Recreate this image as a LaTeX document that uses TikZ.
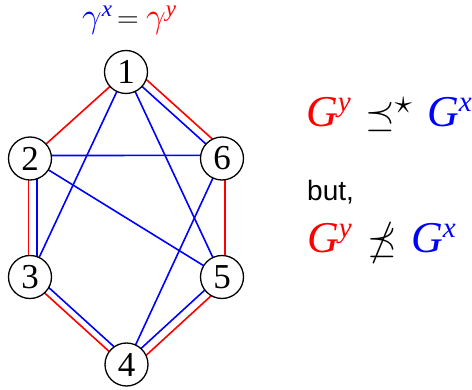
\RequirePackage{fix-cm}
\documentclass[tikz,border=0pt]{standalone}
\usepackage{amssymb}
\usepackage{fontspec}
\newfontfamily\arialfont{Liberation Sans}
\newfontfamily\tmsfont{Liberation Serif}
\usetikzlibrary{calc}
\newcommand\mysup[1]{\raisebox{15.5pt}{\fontsize{29}{29}\selectfont #1}}
\newcommand\topsup[1]{\raisebox{11pt}{\tmsfont\itshape\fontsize{23}{23}\selectfont #1}}
\tikzset{
  vtx/.style={circle,draw=black,line width=1.3pt,fill=white,minimum size=43pt,inner sep=0pt,font=\tmsfont\fontsize{35}{36}\selectfont},
  redge/.style={red,line width=1.6pt},
  bedge/.style={blue,line width=1.6pt},
  glbl/.style={inner sep=0pt,anchor=base west,font=\tmsfont\itshape\fontsize{44}{46}\selectfont},
  slbl/.style={inner sep=0pt,anchor=base west,font=\fontsize{38}{40}\selectfont},
}
\begin{document}
\begin{tikzpicture}[x=1pt,y=1pt]
\useasboundingbox (0,0) rectangle (472,389);
\coordinate (c1) at (126,317);
\coordinate (c2) at (30,230.5);
\coordinate (c6) at (222,230.5);
\coordinate (c3) at (30,112);
\coordinate (c5) at (222,112);
\coordinate (c4) at (126.5,24.5);
% outer cycle (offset to the left of travel = outward)
\draw[redge] ($(c1)!8pt!90:(c6)$) -- ($(c6)!8pt!-90:(c1)$);
\draw[bedge] (c1) -- (c6);
\draw[redge] ($(c6)!3pt!90:(c5)$) -- ($(c5)!3pt!-90:(c6)$);
\draw[redge] ($(c5)!6.5pt!90:(c4)$) -- ($(c4)!6.5pt!-90:(c5)$);
\draw[bedge] ($(c5)!-2pt!90:(c4)$) -- ($(c4)!-2pt!-90:(c5)$);
\draw[redge] ($(c4)!2pt!90:(c3)$) -- ($(c3)!2pt!-90:(c4)$);
\draw[bedge] ($(c4)!-4.8pt!90:(c3)$) -- ($(c3)!-4.8pt!-90:(c4)$);
\draw[redge] ($(c3)!1.5pt!90:(c2)$) -- ($(c2)!1.5pt!-90:(c3)$);
\draw[bedge] ($(c3)!-7pt!90:(c2)$) -- ($(c2)!-7pt!-90:(c3)$);
\draw[redge] (c2) -- (c1);
% blue chords
\draw[bedge] ([yshift=3pt]c2) -- ([yshift=3.1pt]c6);
\draw[bedge] (c2) -- (c5);
\draw[bedge] (c1) -- (c3);
\draw[bedge] (c1) -- (c5);
\draw[bedge] (c6) -- (c4);
% vertices
\node[vtx] (n1) at (c1) {1};
\node[vtx] (n2) at (c2) {2};
\node[vtx] (n6) at (c6) {6};
\node[vtx] (n3) at (c3) {3};
\node[vtx] (n5) at (c5) {5};
\node[vtx] (n4) at (c4) {4};
% top label
\node[inner sep=0pt,anchor=base west,font=\fontsize{35}{36}\selectfont,blue] (tg1) at (82,361.5) {$\gamma$\topsup{x}};
\node[inner sep=0pt,anchor=base west,font=\fontsize{30}{32}\selectfont] (teq) at (117,361.5) {$=$};
\node[inner sep=0pt,anchor=base west,font=\fontsize{35}{36}\selectfont,red] (tg2) at (146,361.5) {$\gamma$\topsup{y}};
% right labels
\node[glbl,red] (l1a) at (306,262) {G\mysup{y}};
\node[slbl] (l1b) at (365,262) {$\preceq^{\scalebox{1.3}{$\scriptstyle\star$}}$};
\node[glbl,blue] (l1c) at (427,262) {G\mysup{x}};
\node[inner sep=0pt,anchor=base west,font=\arialfont\fontsize{28}{30}\selectfont] (l2) at (307,188) {but,};
\node[glbl,red] (l3a) at (307,136) {G\mysup{y}};
\node[slbl] (l3b) at (367,136) {$\npreceq$};
\node[glbl,blue] (l3c) at (411,136) {G\mysup{x}};
\end{tikzpicture}
\end{document}
